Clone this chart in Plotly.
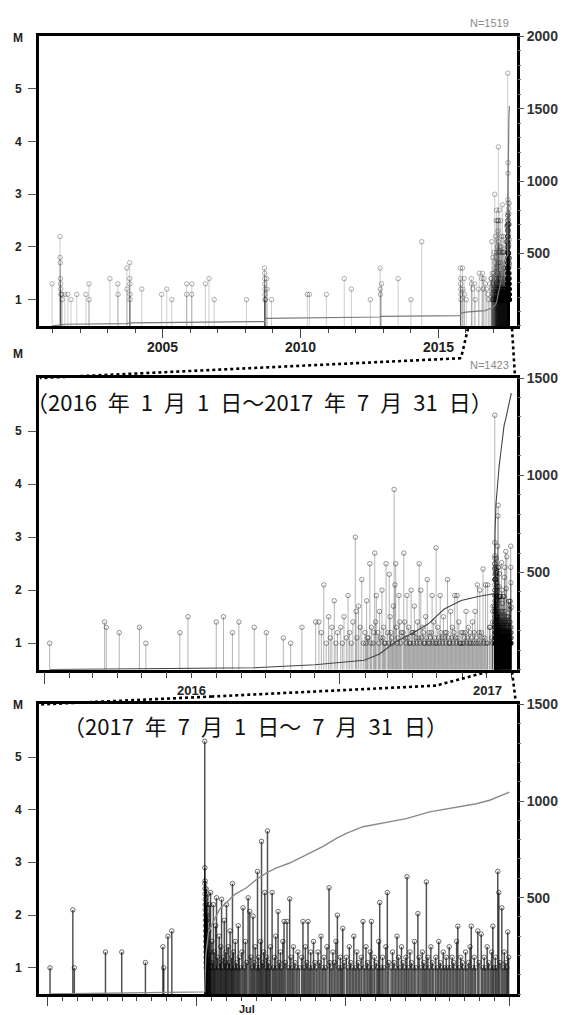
import plotly.graph_objects as go
import pandas as pd

# ---------------- data ----------------
old_dates = ["2000-12-25", "2001-04-08", "2001-04-10", "2001-04-12", "2001-04-14", "2001-04-16", "2001-04-18",
             "2001-04-20", "2001-05-02", "2001-05-06", "2001-06-12", "2001-07-22", "2001-09-01", "2001-11-17",
             "2002-03-18", "2002-04-27", "2002-04-29", "2003-01-30", "2003-05-16", "2003-05-18", "2003-09-12",
             "2003-09-14", "2003-10-20", "2003-10-21", "2003-10-22", "2003-10-24", "2003-10-26", "2004-03-28",
             "2004-12-16", "2005-02-22", "2005-04-30", "2005-11-13", "2005-11-15", "2006-01-19", "2006-01-21",
             "2006-07-20", "2006-09-05", "2006-11-13", "2008-01-15", "2008-09-10", "2008-09-12", "2008-09-14",
             "2008-09-15", "2008-09-16", "2008-09-17", "2008-09-18", "2008-09-20", "2008-10-10", "2008-10-15",
             "2008-12-13", "2010-04-01", "2010-04-29", "2010-12-10", "2011-08-04", "2011-11-06", "2012-07-15",
             "2012-11-22", "2012-11-24", "2012-11-26", "2012-12-10", "2013-07-19", "2014-01-04", "2014-05-28",
             "2015-10-22", "2015-10-24", "2015-10-26", "2015-10-27", "2015-10-28", "2015-10-30", "2015-11-20",
             "2015-11-25", "2015-12-10", "2015-12-15"]
old_mags = [1.3, 2.2, 1.8, 1.7, 1.4, 1.3, 1.2,
            1.1, 1.1, 1.0, 1.1, 1.1, 1.0, 1.1,
            1.1, 1.3, 1.0, 1.4, 1.3, 1.1, 1.6,
            1.2, 1.7, 1.4, 1.3, 1.1, 1.0, 1.2,
            1.1, 1.2, 1.0, 1.1, 1.3, 1.1, 1.3,
            1.3, 1.4, 1.0, 1.0, 1.6, 1.5, 1.4,
            1.3, 1.2, 1.1, 1.0, 1.0, 1.4, 1.2,
            1.0, 1.1, 1.1, 1.1, 1.4, 1.2, 1.0,
            1.6, 1.2, 1.1, 1.3, 1.4, 1.0, 2.1,
            1.6, 1.4, 1.3, 1.2, 1.1, 1.0, 1.6,
            1.2, 1.4, 1.1]

mid_dates = ["2016-01-08", "2016-03-16", "2016-03-18", "2016-04-03", "2016-04-28", "2016-05-06", "2016-06-17",
             "2016-06-27", "2016-08-01", "2016-08-10", "2016-08-21", "2016-08-29", "2016-09-17", "2016-10-02",
             "2016-10-23", "2016-11-01", "2016-11-15", "2016-12-02", "2016-12-06",
             "2016-12-09", "2016-12-12", "2016-12-15", "2016-12-18", "2016-12-20", "2016-12-22", "2016-12-25",
             "2016-12-27", "2016-12-29",
             "2017-01-02", "2017-01-04", "2017-01-06", "2017-01-09", "2017-01-11", "2017-01-13", "2017-01-15",
             "2017-01-17", "2017-01-20", "2017-01-21", "2017-01-22", "2017-01-24", "2017-01-26", "2017-01-28",
             "2017-01-30",
             "2017-02-01", "2017-02-02", "2017-02-03", "2017-02-04", "2017-02-05", "2017-02-07", "2017-02-08",
             "2017-02-09", "2017-02-11", "2017-02-12", "2017-02-13", "2017-02-14", "2017-02-15", "2017-02-17",
             "2017-02-18", "2017-02-19", "2017-02-20", "2017-02-22", "2017-02-23", "2017-02-24", "2017-02-25",
             "2017-02-26", "2017-02-27",
             "2017-03-01", "2017-03-02", "2017-03-03", "2017-03-04", "2017-03-05", "2017-03-06", "2017-03-07",
             "2017-03-08", "2017-03-09", "2017-03-10", "2017-03-11", "2017-03-12", "2017-03-13", "2017-03-14",
             "2017-03-15", "2017-03-16", "2017-03-17", "2017-03-18", "2017-03-20", "2017-03-21", "2017-03-22",
             "2017-03-23", "2017-03-24", "2017-03-25", "2017-03-26", "2017-03-27", "2017-03-28", "2017-03-29",
             "2017-03-30", "2017-03-31",
             "2017-04-01", "2017-04-02", "2017-04-03", "2017-04-04", "2017-04-05", "2017-04-06", "2017-04-07",
             "2017-04-08", "2017-04-09", "2017-04-10", "2017-04-11", "2017-04-12", "2017-04-13", "2017-04-14",
             "2017-04-15", "2017-04-16", "2017-04-17", "2017-04-18", "2017-04-19", "2017-04-20", "2017-04-21",
             "2017-04-22", "2017-04-23", "2017-04-24", "2017-04-25", "2017-04-26", "2017-04-27", "2017-04-28",
             "2017-04-29", "2017-04-30",
             "2017-05-01", "2017-05-02", "2017-05-03", "2017-05-04", "2017-05-05", "2017-05-06", "2017-05-07",
             "2017-05-08", "2017-05-09", "2017-05-10", "2017-05-11", "2017-05-12", "2017-05-13", "2017-05-14",
             "2017-05-15", "2017-05-16", "2017-05-17", "2017-05-18", "2017-05-19", "2017-05-20", "2017-05-21",
             "2017-05-22", "2017-05-23", "2017-05-24", "2017-05-25", "2017-05-26", "2017-05-27", "2017-05-28",
             "2017-05-29", "2017-05-30", "2017-05-31",
             "2017-06-01", "2017-06-02", "2017-06-03", "2017-06-04", "2017-06-05", "2017-06-06", "2017-06-07",
             "2017-06-08", "2017-06-09", "2017-06-10", "2017-06-11", "2017-06-12", "2017-06-13", "2017-06-14",
             "2017-06-15", "2017-06-16", "2017-06-17", "2017-06-18", "2017-06-19", "2017-06-20", "2017-06-21",
             "2017-06-22", "2017-06-23", "2017-06-24", "2017-06-25", "2017-06-26", "2017-06-27", "2017-06-28",
             "2017-06-29", "2017-06-30"]
mid_mags = [1.0, 1.4, 1.3, 1.2, 1.3, 1.0, 1.2,
            1.5, 1.4, 1.5, 1.2, 1.4, 1.3, 1.2,
            1.1, 1.0, 1.3, 1.4, 1.4,
            1.2, 2.1, 1.0, 1.5, 1.1, 1.3, 1.8,
            1.0, 1.2,
            1.3, 1.0, 1.5, 1.1, 1.9, 1.2, 1.0,
            1.4, 3.0, 1.6, 1.1, 1.7, 1.3, 2.2,
            1.0,
            1.2, 1.0, 1.8, 1.1, 1.1, 2.5, 1.0,
            1.3, 1.0, 1.2, 2.7, 1.4, 1.9, 1.2,
            1.0, 1.6, 1.1, 2.0, 1.1, 1.3, 1.0,
            1.0, 2.5,
            1.2, 1.0, 2.3, 1.5, 1.2, 1.1, 1.0,
            1.7, 3.9, 2.1, 2.5, 1.3, 1.0, 1.1,
            1.9, 1.4, 1.0, 1.2, 1.2, 2.7, 1.4,
            1.1, 1.0, 1.9, 1.1, 1.3, 1.0, 1.0,
            2.0, 1.2,
            1.2, 1.0, 1.7, 1.2, 1.1, 1.0, 1.4,
            1.1, 2.5, 1.0, 2.0, 1.1, 1.3, 1.2,
            1.0, 1.0, 1.5, 1.1, 2.2, 1.0, 1.2,
            1.0, 1.1, 1.2, 1.9, 1.0, 1.4, 1.1,
            1.0, 2.8,
            1.0, 1.3, 1.1, 1.0, 1.9, 1.2, 1.1,
            1.0, 1.5, 1.1, 1.2, 1.0, 1.2, 2.2,
            1.1, 1.0, 1.0, 1.6, 1.1, 1.3, 1.0,
            1.2, 1.9, 1.1, 1.0, 1.9, 1.1, 1.4,
            1.0, 1.0, 1.2,
            1.0, 1.2, 1.0, 1.1, 1.2, 1.6, 1.0,
            1.1, 1.3, 1.0, 1.2, 1.0, 1.1, 1.4,
            1.0, 1.2, 1.6, 1.0, 1.1, 2.1, 1.0,
            1.2, 2.0, 1.0, 1.2, 1.1, 2.4, 1.0,
            1.1, 2.1]

# July 2017: day of month (decimal) and magnitude
jul_days = [1.17, 2.70, 2.80, 4.89, 5.98, 7.57, 8.74, 8.80, 9.08, 9.34,
            11.550, 11.555, 11.560, 11.565, 11.570, 11.575, 11.580, 11.585, 11.590, 11.595,
            11.600, 11.605, 11.610, 11.615, 11.620, 11.625, 11.630, 11.635, 11.640, 11.645,
            11.650, 11.660, 11.670, 11.680,
            11.70, 11.73, 11.76, 11.79, 11.82, 11.85, 11.88, 11.91, 11.94, 11.97,
            12.03, 12.08, 12.13, 12.18, 12.23, 12.28, 12.34, 12.40, 12.46, 12.52, 12.58, 12.63, 12.68, 12.74,
            12.80, 12.86, 12.92, 12.97,
            13.01, 13.07, 13.13, 13.19, 13.25, 13.31, 13.36, 13.41, 13.47, 13.53, 13.60, 13.67, 13.74, 13.80,
            13.87, 13.94,
            14.04, 14.12, 14.20, 14.28, 14.36, 14.46, 14.57, 14.65, 14.72, 14.79, 14.86, 14.93,
            15.02, 15.09, 15.16, 15.23, 15.30, 15.36, 15.43, 15.50, 15.58, 15.65, 15.70, 15.76, 15.83, 15.90, 15.96,
            16.07, 16.15, 16.23, 16.31, 16.39, 16.47, 16.55, 16.63, 16.71, 16.79, 16.87, 16.95,
            17.07, 17.15, 17.25, 17.33, 17.42, 17.50, 17.60, 17.70, 17.80, 17.90,
            18.05, 18.14, 18.22, 18.30, 18.40, 18.48, 18.57, 18.66, 18.75, 18.85, 18.94,
            19.05, 19.15, 19.25, 19.35, 19.45, 19.55, 19.65, 19.75, 19.89, 19.95,
            20.05, 20.15, 20.25, 20.35, 20.45, 20.55, 20.65, 20.73, 20.81, 20.90,
            21.05, 21.15, 21.25, 21.35, 21.45, 21.55, 21.65, 21.75, 21.85, 21.95,
            22.05, 22.17, 22.27, 22.37, 22.47, 22.57, 22.65, 22.73, 22.83, 22.93,
            23.05, 23.15, 23.22, 23.29, 23.38, 23.48, 23.58, 23.70, 23.80, 23.90,
            24.05, 24.15, 24.25, 24.35, 24.45, 24.55, 24.65, 24.75, 24.85, 24.95,
            25.05, 25.12, 25.22, 25.32, 25.42, 25.52, 25.62, 25.72, 25.85, 25.93,
            26.05, 26.15, 26.25, 26.33, 26.42, 26.52, 26.62, 26.72, 26.82, 26.92,
            27.05, 27.15, 27.25, 27.35, 27.45, 27.55, 27.65, 27.75, 27.85, 27.95,
            28.05, 28.15, 28.25, 28.35, 28.45, 28.53, 28.63, 28.73, 28.83, 28.93,
            29.05, 29.15, 29.25, 29.35, 29.43, 29.53, 29.63, 29.73, 29.87, 29.95,
            30.10, 30.20, 30.30, 30.40, 30.50, 30.60, 30.70, 30.80, 30.88, 30.95,
            31.05, 31.12, 31.21, 31.28, 31.36, 31.48, 31.56, 31.65, 31.75, 31.82, 31.88, 31.94]
jul_mags = [1.0, 2.1, 1.0, 1.3, 1.3, 1.1, 1.4, 1.0, 1.6, 1.7,
            5.3, 2.9, 2.6, 2.5, 2.4, 2.65, 2.3, 2.2, 2.1, 2.0,
            1.9, 1.8, 1.7, 1.6, 1.5, 1.4, 1.3, 1.2, 1.1, 1.0,
            2.5, 2.2, 1.9, 1.6,
            2.0, 1.4, 2.4, 1.2, 1.7, 1.1, 2.2, 1.3, 2.43, 1.0,
            1.5, 1.1, 2.2, 1.3, 1.0, 1.8, 2.33, 1.2, 1.0, 1.6, 1.1, 1.4, 2.3, 1.0,
            1.2, 1.9, 1.1, 1.3,
            2.2, 1.0, 1.4, 1.1, 1.7, 1.0, 1.2, 2.6, 1.3, 1.0, 1.5, 1.1, 1.0, 1.8,
            1.2, 1.0,
            1.3, 2.14, 1.0, 1.5, 1.1, 2.33, 2.07, 1.2, 1.0, 1.98, 1.1, 1.4,
            1.0, 2.83, 1.2, 1.0, 1.5, 3.4, 1.1, 1.3, 2.43, 1.0, 1.2, 3.6, 1.1, 1.0, 1.4,
            2.43, 1.0, 1.2, 1.6, 1.0, 2.07, 1.1, 1.3, 1.0, 1.5, 1.88, 1.1,
            1.88, 1.0, 2.31, 1.2, 1.0, 1.4, 1.1, 1.0, 1.3, 1.0,
            1.2, 1.88, 1.0, 1.4, 1.1, 1.88, 1.0, 1.3, 1.0, 1.5, 1.1,
            1.0, 1.3, 1.1, 1.6, 1.0, 1.2, 1.0, 1.4, 2.52, 1.1,
            1.0, 1.3, 1.1, 1.5, 2.0, 1.0, 1.2, 1.0, 1.75, 1.1,
            1.2, 1.0, 1.4, 1.1, 1.0, 1.6, 1.0, 1.3, 1.1, 1.0,
            1.2, 1.88, 1.0, 1.4, 1.1, 1.0, 1.3, 1.88, 1.0, 1.2,
            1.1, 1.0, 1.5, 2.24, 1.0, 1.2, 1.0, 1.4, 2.43, 1.1,
            1.0, 1.3, 1.1, 1.0, 1.6, 1.2, 1.0, 1.4, 1.1, 1.0,
            1.2, 2.73, 1.0, 1.3, 1.1, 1.0, 1.5, 1.0, 2.03, 1.2,
            1.0, 1.3, 1.1, 1.0, 2.63, 1.2, 1.0, 1.4, 1.1, 1.0,
            1.2, 1.0, 1.5, 1.1, 1.0, 1.3, 1.0, 1.2, 1.0, 1.4,
            1.0, 1.2, 1.1, 1.0, 1.5, 1.79, 1.0, 1.2, 1.1, 1.0,
            1.3, 1.0, 1.1, 1.4, 1.79, 1.0, 1.2, 1.0, 1.7, 1.1,
            1.64, 1.0, 1.2, 1.0, 1.4, 1.1, 1.0, 1.3, 1.79, 1.0,
            1.2, 1.0, 2.83, 2.43, 1.1, 2.14, 1.0, 1.3, 1.1, 1.0, 1.68, 1.2]

# cumulative number curves
cum1_dates = ["2000-12-25", "2001-04-06", "2001-04-22", "2001-06-15", "2002-04-30", "2003-09-10", "2003-10-27",
              "2005-11-15", "2006-01-22", "2008-09-08", "2008-09-22", "2010-04-01", "2011-08-04", "2012-11-20",
              "2012-12-01", "2014-05-28", "2015-10-20", "2015-11-01", "2016-01-01", "2016-05-04", "2016-09-17",
              "2016-12-01", "2017-01-31", "2017-02-19", "2017-03-10", "2017-03-30", "2017-04-20", "2017-05-10",
              "2017-05-31", "2017-06-21", "2017-07-07", "2017-07-11 13:00", "2017-07-11 19:00", "2017-07-13",
              "2017-07-17", "2017-07-21", "2017-07-26", "2017-07-31 23:59"]
cum1_counts = [1, 3, 8, 12, 14, 16, 22, 25, 27, 30, 53, 55, 58, 62, 66, 70, 72, 88, 96, 101, 106, 122, 145, 177,
               237, 280, 331, 408, 452, 473, 485, 490, 800, 950, 1150, 1300, 1420, 1519]

cum2_dates = ["2016-01-08", "2016-05-04", "2016-09-17", "2016-12-01", "2017-01-31", "2017-02-19", "2017-03-10",
              "2017-03-30", "2017-04-20", "2017-05-10", "2017-05-31", "2017-06-21", "2017-07-07",
              "2017-07-11 13:00", "2017-07-11 15:00", "2017-07-11 19:00", "2017-07-13", "2017-07-15",
              "2017-07-17", "2017-07-19", "2017-07-21", "2017-07-23", "2017-07-25", "2017-07-27", "2017-07-29",
              "2017-07-31 23:59"]
cum2_counts = [1, 5, 10, 26, 49, 81, 141, 184, 235, 312, 356, 377, 389, 392, 580, 700, 854, 974, 1050, 1120,
               1200, 1255, 1289, 1330, 1358, 1423]

cum3_days = [1.17, 2.8, 4.89, 5.98, 7.57, 8.8, 9.34, 11.55, 11.62, 11.8, 12.11, 12.56, 13.01, 13.57, 14.35,
             15.02, 15.69, 16.36, 17.25, 18.37, 19.49, 20.38, 21.05, 22.17, 23.29, 25.07, 26.64, 28.43, 29.77,
             30.66, 31.99]
cum3_counts = [1, 3, 4, 5, 6, 8, 10, 12, 200, 320, 372, 441, 474, 517, 551, 594, 628, 654, 679, 722, 765, 807,
               833, 867, 884, 909, 944, 969, 986, 1004, 1046]

# axis tick labels
m_ticks = [1, 2, 3, 4, 5]
year_ticks1 = ["2005", "2010", "2015"]
year_labels2 = ["2016", "2017"]
year_label_pos2 = ["2016-07-01", "2017-07-02"]

# ---------------- helpers ----------------
W, H = 568, 1015
def px(x):
    return x / W
def py(y):
    return 1 - y / H

MBASE = 0.5
old_t = pd.to_datetime(old_dates)
mid_t = pd.to_datetime(mid_dates)
jul0 = pd.Timestamp("2017-07-01")
jul_t = [jul0 + pd.Timedelta(days=d - 1) for d in jul_days]
cum3_t = [jul0 + pd.Timedelta(days=d - 1) for d in cum3_days]
DAY_MS = 86400000

fig = go.Figure()

def add_events(ts, ms, xa, ya, alpha, width_ms, malpha, msize=4.5):
    ts = list(ts)
    ms = list(ms)
    fig.add_trace(go.Bar(x=ts, y=[m - MBASE for m in ms], base=MBASE, width=width_ms,
                         marker=dict(color=f"rgba(0,0,0,{alpha})", line=dict(width=0)),
                         xaxis=xa, yaxis=ya, showlegend=False, hoverinfo="skip"))
    fig.add_trace(go.Scatter(x=ts, y=ms, mode="markers",
                             marker=dict(symbol="circle-open", size=msize, color=f"rgba(0,0,0,{malpha})",
                                         line=dict(width=1, color=f"rgba(0,0,0,{malpha})")),
                             xaxis=xa, yaxis=ya, showlegend=False, hoverinfo="skip"))

all_t = list(old_t) + list(mid_t) + jul_t
all_m = list(old_mags) + list(mid_mags) + list(jul_mags)

# ---- panel 1 (2000 - 2017)
add_events(all_t, all_m, "x", "y", 0.2, 13 * DAY_MS, 0.3)
fig.add_trace(go.Scatter(x=pd.to_datetime(cum1_dates, format="ISO8601"), y=cum1_counts, mode="lines",
                         line=dict(color="#7a7a7a", width=1.2), xaxis="x", yaxis="y4",
                         showlegend=False, hoverinfo="skip"))

# ---- panel 2 (2016-01-01 - 2017-07-31)
p2 = [(t, m) for t, m in zip(all_t, all_m) if t >= pd.Timestamp("2016-01-01")]
add_events([a for a, b in p2], [b for a, b in p2], "x2", "y2", 0.3, 1.2 * DAY_MS, 0.4)
fig.add_trace(go.Scatter(x=pd.to_datetime(cum2_dates, format="ISO8601"), y=cum2_counts, mode="lines",
                         line=dict(color="#444444", width=1.1), xaxis="x2", yaxis="y5",
                         showlegend=False, hoverinfo="skip"))

# ---- panel 3 (2017-07-01 - 07-31)
add_events(jul_t, jul_mags, "x3", "y3", 0.68, 0.1 * DAY_MS, 0.55, msize=4.5)
fig.add_trace(go.Scatter(x=cum3_t, y=cum3_counts, mode="lines",
                         line=dict(color="#8a8a8a", width=1.4), xaxis="x3", yaxis="y6",
                         showlegend=False, hoverinfo="skip"))

# ---------------- layout ----------------
dom_x = [px(39), px(517)]
doms = [[py(320.5), py(28.5)], [py(667), py(373)], [py(994), py(702)]]
axline = dict(showline=True, linewidth=2.5, linecolor="black", mirror=True, showgrid=False, zeroline=False)

def m_axis(i):
    return dict(domain=doms[i], anchor="x" if i == 0 else f"x{i+1}", range=[MBASE, 6.0],
                tickmode="array", tickvals=m_ticks, ticks="outside", ticklen=8,
                tickwidth=1, tickcolor="#555555", showticklabels=False, **axline)

def n_axis(i, top, vals):
    return dict(overlaying="y" if i == 0 else f"y{i+1}", anchor="x" if i == 0 else f"x{i+1}",
                side="right", range=[0, top], tickmode="array", tickvals=vals, ticks="outside",
                ticklen=6, tickwidth=1, tickcolor="#555555",
                tickfont=dict(family="Liberation Sans, Arial, sans-serif", size=14, color="#333333",
                              weight="bold"),
                minor=dict(dtick=100, ticks="outside", ticklen=3, tickcolor="#777777", tickwidth=1),
                showgrid=False, zeroline=False, showline=False)

fig.update_layout(
    width=W, height=H, autosize=False, margin=dict(l=0, r=0, t=0, b=0),
    plot_bgcolor="white", paper_bgcolor="white", showlegend=False, barmode="overlay",
    xaxis=dict(domain=dom_x, anchor="y", type="date", range=["2000-07-04", "2017-11-11"],
               tickmode="array", tickvals=[f"{y}-01-01" for y in year_ticks1], showticklabels=False,
               ticks="outside", ticklen=9, tickwidth=1, tickcolor="#444444",
               minor=dict(dtick="M12", tick0="2000-01-01", ticks="outside", ticklen=4,
                          tickcolor="#444444", tickwidth=1),
               **axline),
    xaxis2=dict(domain=dom_x, anchor="y2", type="date", range=["2015-12-25 19:00", "2017-08-08"],
                tickmode="array", tickvals=["2016-01-01", "2017-01-01"], showticklabels=False,
                ticks="outside", ticklen=12, tickwidth=1, tickcolor="#444444",
                minor=dict(dtick="M1", tick0="2016-01-01", ticks="outside", ticklen=6,
                           tickcolor="#444444", tickwidth=1),
                **axline),
    xaxis3=dict(domain=dom_x, anchor="y3", type="date", range=["2017-06-30 10:19", "2017-08-01 12:00"],
                tickmode="array", tickvals=["2017-07-01", "2017-07-11", "2017-07-21", "2017-08-01"],
                showticklabels=False, ticks="outside", ticklen=9, tickwidth=1, tickcolor="#444444",
                minor=dict(dtick=DAY_MS, tick0="2017-07-01", ticks="outside", ticklen=4,
                           tickcolor="#444444", tickwidth=1),
                **axline),
    yaxis=m_axis(0), yaxis2=m_axis(1), yaxis3=m_axis(2),
    yaxis4=n_axis(0, 2000, [500, 1000, 1500, 2000]),
    yaxis5=n_axis(1, 1500, [500, 1000, 1500]),
    yaxis6=n_axis(2, 1500, [500, 1000, 1500]),
)

# dotted connectors between panels
dots = dict(color="black", width=2.6, dash="dot")
def seg(x0, y0, x1, y1):
    fig.add_shape(type="line", xref="paper", yref="paper", x0=px(x0), y0=py(y0), x1=px(x1), y1=py(y1),
                  line=dots)
seg(468, 323, 461, 353)
seg(461, 353, 40, 373)
seg(512, 323, 515, 372)
seg(488, 669, 436, 683)
seg(436, 683, 212, 694)
seg(212, 694, 40, 702)
seg(512, 669, 516, 701)

lab_font = dict(family="Liberation Sans, Arial, sans-serif", size=12, color="#222222", weight="bold")
xlab_font = dict(family="Liberation Sans, Arial, sans-serif", size=14, color="#222222", weight="bold")
cjk = dict(family="Noto Sans CJK JP, sans-serif", size=22, color="#111111")
grey = dict(family="Liberation Sans, Arial, sans-serif", size=11, color="#8a8a8a")
ES = "\u2002"
title2 = f"（2016{ES}年{ES}1{ES}月{ES}1{ES}日～2017{ES}年{ES}7{ES}月{ES}31{ES}日）"
title3 = f"（2017{ES}年{ES}7{ES}月{ES}1{ES}日～{ES}7{ES}月{ES}31{ES}日）"

annos = [
    dict(text="M", x=px(18), y=py(30), font=lab_font, xanchor="center"),
    dict(text="M", x=px(18), y=py(349), font=lab_font, xanchor="center"),
    dict(text="M", x=px(18), y=py(703), font=lab_font, xanchor="center"),
    dict(text="N=1519", x=px(511), y=py(15), font=grey, xanchor="right"),
    dict(text="N=1423", x=px(511), y=py(360), font=grey, xanchor="right"),
    dict(text=title2, x=px(495), y=py(396), font=cjk, xanchor="right"),
    dict(text=title3, x=px(450), y=py(723), font=cjk, xanchor="right"),
]
for a in annos:
    fig.add_annotation(xref="paper", yref="paper", showarrow=False, yanchor="middle", **a)

# left magnitude tick labels
for i, ya in enumerate(["y", "y2", "y3"]):
    for m in m_ticks:
        fig.add_annotation(text=str(m), xref="paper", yref=ya, x=px(18.5), y=m, showarrow=False,
                           xanchor="center", yanchor="middle", font=lab_font)
# x labels
for yr in year_ticks1:
    fig.add_annotation(text=yr, xref="x", yref="paper", x=f"{yr}-01-01", y=py(342), showarrow=False,
                       xanchor="center", yanchor="middle", font=xlab_font)
for lab, pos in zip(year_labels2, year_label_pos2):
    fig.add_annotation(text=lab, xref="x2", yref="paper", x=pos, y=py(688), showarrow=False,
                       xanchor="center", yanchor="middle", font=dict(xlab_font, size=13))
fig.add_annotation(text="Jul", xref="x3", yref="paper", x="2017-07-14 10:00", y=py(1009), showarrow=False,
                   xanchor="center", yanchor="middle", font=dict(lab_font, size=11))

fig.write_html("out.html", config=dict(displayModeBar=False),
               post_script="document.body.style.margin='0px';")
